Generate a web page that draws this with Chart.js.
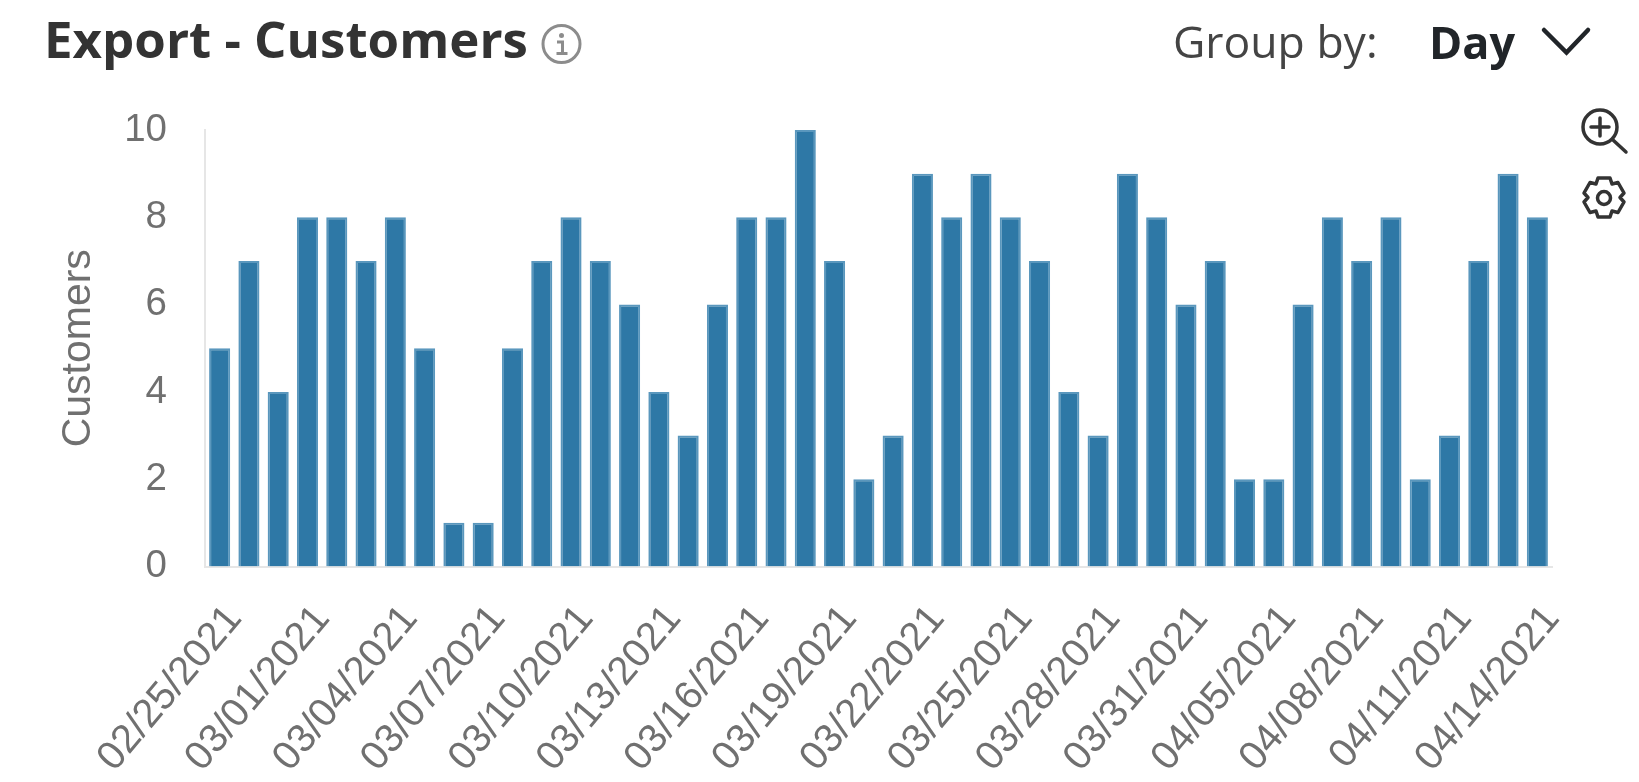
<!DOCTYPE html>
<html>
<head>
<meta charset="utf-8">
<title>Export - Customers</title>
<script src="https://cdn.jsdelivr.net/npm/chart.js@4/dist/chart.umd.min.js"></script>
<style>
    html, body { margin: 0; padding: 0; background: #fff; overflow: hidden; }
    #wrap { position: relative; width: 1639px; height: 782px; }
    #customers-chart { position: absolute; left: 0; top: 0; }
    .label { position: absolute; font-family: 'Open Sans', sans-serif; white-space: nowrap; line-height: 1; }
    #title { left: 44px; top: 13px; font-size: 51px; font-weight: 700; color: #333; }
    #group-label { left: 1173px; top: 19px; font-size: 44.500px; color: #444; }
    #group-value { left: 1429px; top: 19px; font-size: 45px; font-weight: 700; color: #212529; }
    svg { position: absolute; left: 0; top: 0; pointer-events: none; }
</style>
</head>
<body>
<div id="wrap">
    <canvas id="customers-chart" width="1639" height="782"></canvas>
    <div class="label" id="title">Export - Customers</div>
    <div class="label" id="group-label">Group by:</div>
    <div class="label" id="group-value">Day</div>
    <svg width="1639" height="782" fill="none">
        <!-- info icon -->
        <circle cx="561.500" cy="44" r="18.500" stroke="#8c8c8c" stroke-width="3"/>
        <circle cx="561.500" cy="35.500" r="2.500" fill="#8c8c8c"/>
        <path d="M557 42h5.500v11M556.500 53.500h11" stroke="#8c8c8c" stroke-width="3"/>
        <!-- dropdown chevron -->
        <path d="M1544 30l22.500 22.500L1588 30" stroke="#212529" stroke-width="4.500" stroke-linecap="round"/>
        <!-- zoom icon -->
        <circle cx="1600" cy="127" r="17" stroke="#333" stroke-width="3.500"/>
        <path d="M1613 140l13 12M1600 118v18M1591 127h18" stroke="#333" stroke-width="3.500" stroke-linecap="round"/>
        <!-- settings icon -->
        <circle cx="1604" cy="198" r="6.500" stroke="#333" stroke-width="3.500"/>
        <path d="M1598 178h12l2 6 6-1.500 6 10.500-4 4.500 4 4.500-6 10.500-6-1.500-2 6h-12l-2-6-6 1.500-6-10.500 4-4.500-4-4.500 6-10.500 6 1.500z" stroke="#333" stroke-width="3.500" stroke-linejoin="round"/>
    </svg>
</div>
<script>
const dates = [
    '02/25/2021', '02/26/2021', '02/27/2021', '03/01/2021', '03/02/2021', '03/03/2021',
    '03/04/2021', '03/05/2021', '03/06/2021', '03/07/2021', '03/08/2021', '03/09/2021',
    '03/10/2021', '03/11/2021', '03/12/2021', '03/13/2021', '03/14/2021', '03/15/2021',
    '03/16/2021', '03/17/2021', '03/18/2021', '03/19/2021', '03/20/2021', '03/21/2021',
    '03/22/2021', '03/23/2021', '03/24/2021', '03/25/2021', '03/26/2021', '03/27/2021',
    '03/28/2021', '03/29/2021', '03/30/2021', '03/31/2021', '04/01/2021', '04/03/2021',
    '04/05/2021', '04/06/2021', '04/07/2021', '04/08/2021', '04/09/2021', '04/10/2021',
    '04/11/2021', '04/12/2021', '04/13/2021', '04/14/2021'
];

const customers = [
    5, 7, 4, 8, 8, 7, 8, 5, 1, 1, 5, 7, 8, 7, 6, 4, 3, 6, 8, 8, 10, 7, 2,
    3, 9, 8, 9, 8, 7, 4, 3, 9, 8, 6, 7, 2, 2, 6, 8, 7, 8, 2, 3, 7, 9, 8
];

const axisFont = { family: "'Liberation Sans', Arial, sans-serif", size: 38.5 };

new Chart(document.getElementById('customers-chart'), {
    type: 'bar',
    data: {
        labels: dates,
        datasets: [{
            label: 'Customers',
            data: customers,
            backgroundColor: '#2e78a6',
            borderColor: '#5a97bd',
            borderWidth: 2,
            barPercentage: 0.72,
            categoryPercentage: 1
        }]
    },
    options: {
        responsive: false,
        animation: false,
        layout: { padding: { left: 0, top: 130, right: 87, bottom: 0 } },
        plugins: {
            legend: { display: false },
            tooltip: { enabled: false }
        },
        scales: {
            x: {
                grid: { display: false },
                border: { color: '#e6e6e6', width: 2 },
                afterFit: scale => { scale.height = 215.5; },
                ticks: {
                    font: { family: axisFont.family, size: 40 },
                    color: '#707070',
                    autoSkip: false,
                    minRotation: 50,
                    maxRotation: 50,
                    padding: 22,
                    labelOffset: 15,
                    callback: function(value, index) {
                        return index % 3 === 0 ? this.getLabelForValue(value) : '';
                    }
                }
            },
            y: {
                min: 0,
                max: 10,
                grid: { display: false },
                border: { color: '#e6e6e6', width: 2 },
                afterFit: scale => { scale.width = 205; },
                title: {
                    display: true,
                    text: 'Customers',
                    font: { family: axisFont.family, size: 41 },
                    color: '#707070',
                    padding: { top: 54, bottom: 0 }
                },
                ticks: {
                    font: axisFont,
                    color: '#707070',
                    stepSize: 2,
                    padding: 30
                }
            }
        }
    }
});
</script>
</body>
</html>
